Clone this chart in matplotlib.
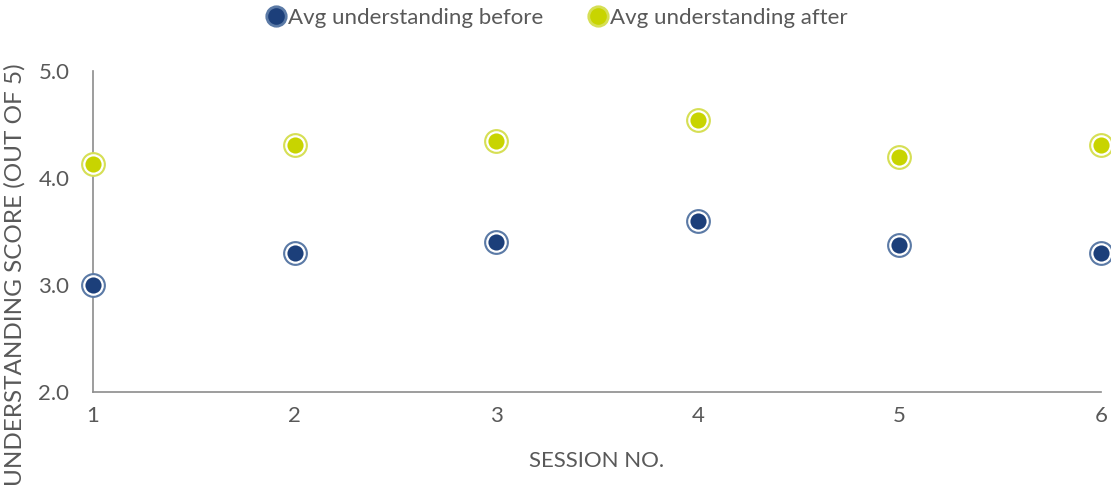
import matplotlib.pyplot as plt
from matplotlib.lines import Line2D

sessions = [1, 2, 3, 4, 5, 6]
before = [3.0, 3.3, 3.4, 3.6, 3.37, 3.3]
after = [4.13, 4.31, 4.35, 4.54, 4.2, 4.31]

blue = '#1c3f7a'
blue_ring = '#5b7aa6'
lime = '#c8d400'
lime_ring = '#d6df55'
txt = '#595959'

plt.rcParams['font.family'] = ['Lato', 'DejaVu Sans']

fig = plt.figure(figsize=(11.11, 4.92), dpi=100)
ax = fig.add_axes([93/1111, 1 - 392/492, (1101 - 93)/1111, (392 - 71)/492])


def ringed(x, y, fill, ring):
    ax.scatter(x, y, s=320, color=ring, zorder=3, clip_on=False, linewidths=0)
    ax.scatter(x, y, s=175, color=fill, edgecolors='white', linewidths=1.6,
               zorder=4, clip_on=False)


ringed(sessions, before, blue, blue_ring)
ringed(sessions, after, lime, lime_ring)

ax.set_xlim(1, 6)
ax.set_ylim(2.0, 5.0)
ax.set_xticks(sessions)
ax.set_yticks([2.0, 3.0, 4.0, 5.0])
ax.set_yticklabels(['2.0', '3.0', '4.0', '5.0'])
for s in ['top', 'right']:
    ax.spines[s].set_visible(False)
for s in ['left', 'bottom']:
    ax.spines[s].set_color('#8c8c8c')
    ax.spines[s].set_linewidth(1.2)
ax.tick_params(length=0, labelsize=16, labelcolor=txt, pad=10)
ax.tick_params(axis='y', pad=17)

ax.set_xlabel('SESSION NO.', fontsize=16, color=txt, labelpad=18)
fig.text(15/1111, 1 - 275/492, 'UNDERSTANDING SCORE (OUT OF 5)', rotation=90,
         ha='center', va='center', fontsize=17.5, color=txt)

handles = [
    Line2D([], [], marker='o', ls='', markersize=14, markerfacecolor=blue,
           markeredgecolor=blue_ring, markeredgewidth=2),
    Line2D([], [], marker='o', ls='', markersize=14, markerfacecolor=lime,
           markeredgecolor=lime_ring, markeredgewidth=2),
]
fig.legend(handles, ['Avg understanding before', 'Avg understanding after'],
           loc='center', bbox_to_anchor=(556/1111, 1 - 18/492), ncol=2,
           frameon=False, fontsize=16, labelcolor=txt, handletextpad=0.0,
           columnspacing=1.9, handlelength=1.1)

fig.savefig('out.png', dpi=100)
